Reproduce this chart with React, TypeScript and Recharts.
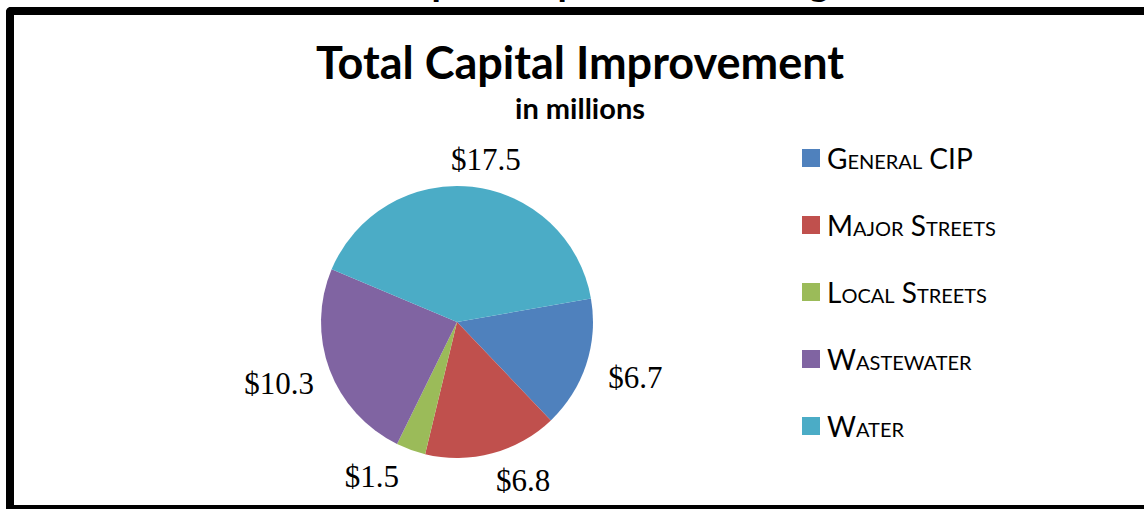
import React from "react";
import { PieChart, Pie, Cell, Legend } from "recharts";

const categories = ["General CIP", "Major Streets", "Local Streets", "Wastewater", "Water"];
const values = [6.7, 6.8, 1.5, 10.3, 17.5];
const colors = ["#4F81BD", "#C0504D", "#9BBB59", "#8064A2", "#4BACC6"];

const data = categories.map((name, i) => ({ name, value: values[i] }));

const RAD = Math.PI / 180;

const renderLabel = (props: any) => {
  const { cx, cy, midAngle, outerRadius, value } = props;
  const c = Math.cos(-midAngle * RAD);
  const s = Math.sin(-midAngle * RAD);
  const x = cx + c * (outerRadius + 44 + 80 * s * s);
  const y = cy + s * (outerRadius + 27 + 15 * c * c);
  return (
    <text
      x={x}
      y={y}
      textAnchor="middle"
      dominantBaseline="central"
      fontFamily="'Liberation Serif', 'Times New Roman', serif"
      fontSize={31}
      fill="#000"
    >
      {"$" + value.toFixed(1)}
    </text>
  );
};

const LegendContent = () => {
  return (
    <div style={{ display: "flex", flexDirection: "column" }}>
      {categories.map((name, i) => (
        <div
          key={name}
          style={{ display: "flex", alignItems: "center", height: 67 }}
        >
          <div
            style={{
              width: 18,
              height: 18,
              background: colors[i],
              marginRight: 7,
            }}
          />
          <span
            style={{
              fontFamily: "Lato, 'Open Sans', sans-serif",
              fontSize: 28,
              fontVariant: "small-caps",
              color: "#000",
              lineHeight: "28px",
            }}
          >
            {name}
          </span>
        </div>
      ))}
    </div>
  );
};

export default function App() {
  return (
    <div
      style={{
        position: "absolute",
        left: 0,
        top: 0,
        width: 1144,
        height: 510,
        overflow: "hidden",
        background: "#fff",
      }}
    >
      <div
        style={{
          position: "absolute",
          left: 6,
          top: 7,
          width: 1160,
          height: 502,
          boxSizing: "border-box",
          borderLeft: "8px solid #000",
          borderTop: "8px solid #000",
          borderBottom: "4px solid #000",
          borderTopLeftRadius: 5,
        }}
      />
      <svg
        width={1144}
        height={510}
        style={{ position: "absolute", left: 0, top: 0 }}
      >
        <text
          x={387}
          y={-4}
          fontFamily="Lato, sans-serif"
          fontWeight={700}
          fontSize={38}
          fill="#000"
        >
          Capital Improvement Program
        </text>
        <text
          x={580}
          y={79}
          textAnchor="middle"
          fontFamily="Lato, sans-serif"
          fontWeight={700}
          fontSize={45}
          fill="#000"
        >
          Total Capital Improvement
        </text>
        <text
          x={580}
          y={119}
          textAnchor="middle"
          fontFamily="Lato, sans-serif"
          fontWeight={700}
          fontSize={29}
          fill="#000"
        >
          in millions
        </text>
      </svg>
      <div style={{ position: "absolute", left: 0, top: 0 }}>
        <PieChart
          width={1144}
          height={510}
          margin={{ top: 0, right: 0, bottom: 0, left: 0 }}
        >
          <Pie
            data={data}
            dataKey="value"
            nameKey="name"
            cx={457}
            cy={322}
            outerRadius={136}
            startAngle={10}
            endAngle={-350}
            stroke="none"
            label={renderLabel}
            labelLine={false}
            isAnimationActive={false}
          >
            {data.map((d, i) => (
              <Cell key={d.name} fill={colors[i]} />
            ))}
          </Pie>
          <Legend
            layout="vertical"
            align="right"
            verticalAlign="top"
            content={<LegendContent />}
            wrapperStyle={{ position: "absolute", left: 802, top: 124, width: 330 }}
          />
        </PieChart>
      </div>
    </div>
  );
}
